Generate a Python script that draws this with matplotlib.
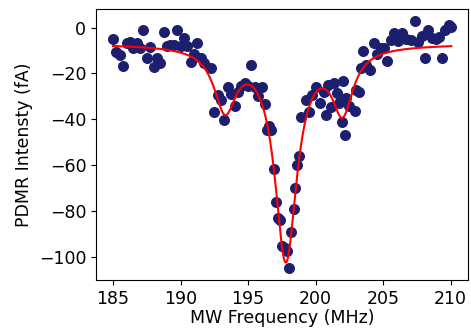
import numpy as np
import matplotlib
matplotlib.use("Agg")
import matplotlib.pyplot as plt

# measured points (MHz, fA)
freq = [185.0, 185.25, 185.5, 185.75, 186.0, 186.25, 186.5, 186.75, 187.0, 187.25,
        187.5, 187.75, 188.0, 188.25, 188.5, 188.75, 189.0, 189.25, 189.5, 189.75,
        190.0, 190.25, 190.5, 190.75, 191.0, 191.25, 191.5, 191.75, 192.25, 192.5,
        192.75, 193.0, 193.25, 193.5, 193.75, 194.0, 194.25, 194.5, 194.75, 195.0,
        195.25, 195.5, 195.75, 196.0, 196.25, 196.4, 196.55, 196.7, 196.9, 197.05,
        197.25, 197.4, 197.55, 197.75, 197.9, 198.05, 198.2, 198.4, 198.45, 198.6,
        198.75, 198.9, 199.3, 199.5, 199.75, 200.0, 200.3, 200.6, 200.8, 200.95,
        201.15, 201.4, 201.6, 201.75, 201.95, 202.0, 202.2, 202.25, 202.5, 202.9,
        203.0, 203.2, 203.35, 203.5, 203.75, 204.05, 204.3, 204.55, 204.85, 205.1,
        205.3, 205.6, 205.8, 206.1, 206.4, 206.7, 207.05, 207.4, 207.6, 207.9,
        208.1, 208.35, 208.65, 208.9, 209.15, 209.4, 209.6, 209.85, 210.05]
signal = [-4.8, -10.6, -12.1, -16.9, -6.7, -6.2, -8.9, -6.7, -8.9, -0.9,
          -13.2, -8.6, -17.3, -13.2, -15.4, -1.9, -8.2, -7.4, -7.7, -1.0,
          -8.2, -4.5, -8.2, -14.9, -11.7, -6.9, -13.4, -15.4, -17.6, -37.0,
          -29.2, -31.4, -40.5, -25.8, -28.8, -34.4, -28.0, -25.3, -24.0, -25.6,
          -16.2, -25.7, -30.0, -25.8, -33.5, -44.5, -43.0, -44.5, -61.9, -76.0,
          -83.0, -84.1, -95.5, -96.2, -97.7, -104.7, -89.4, -79.2, -70.0, -60.1,
          -56.2, -39.0, -31.4, -36.8, -29.3, -25.9, -32.7, -28.1, -38.2, -25.1,
          -34.5, -24.0, -28.5, -32.9, -41.4, -23.4, -46.8, -30.7, -34.4, -36.5,
          -27.4, -28.2, -17.6, -10.2, -16.5, -18.7, -6.9, -11.3, -8.9, -8.9,
          -14.7, -5.2, -2.3, -6.0, -2.3, -4.9, -5.5, 2.8, -6.4, -3.5,
          -13.2, -1.2, -4.5, -4.9, -4.1, -13.2, -0.9, 1.3, 0.3]

# triple Lorentzian fit parameters
fit_offset = -7.0
fit_centers = [193.3, 197.8, 202.0]
fit_widths = [1.0, 1.0, 0.95]
fit_amps = [-26.5, -93.0, -27.0]


def lorentz_fit(x):
    y = np.full_like(x, fit_offset)
    for x0, g, a in zip(fit_centers, fit_widths, fit_amps):
        y += a * g**2 / ((x - x0)**2 + g**2)
    return y


fig = plt.figure(figsize=(4.71, 3.30), dpi=100)
ax = fig.add_axes([0.204, 0.152, 0.790, 0.821])

ax.scatter(freq, signal, s=48, color='#1c1f6e', zorder=2)
xf = np.linspace(min(freq), max(freq), 600)
ax.plot(xf, lorentz_fit(xf), color='red', lw=1.5, zorder=3)

ax.set_xticks([185, 190, 195, 200, 205, 210])
ax.set_yticks([0, -20, -40, -60, -80, -100])
ax.tick_params(labelsize=12.5)
ax.set_xlabel('MW Frequency (MHz)', fontsize=12.5, labelpad=1)
ax.set_ylabel('PDMR Intensty (fA)', fontsize=12.5)

fig.savefig('out.png', dpi=100)
